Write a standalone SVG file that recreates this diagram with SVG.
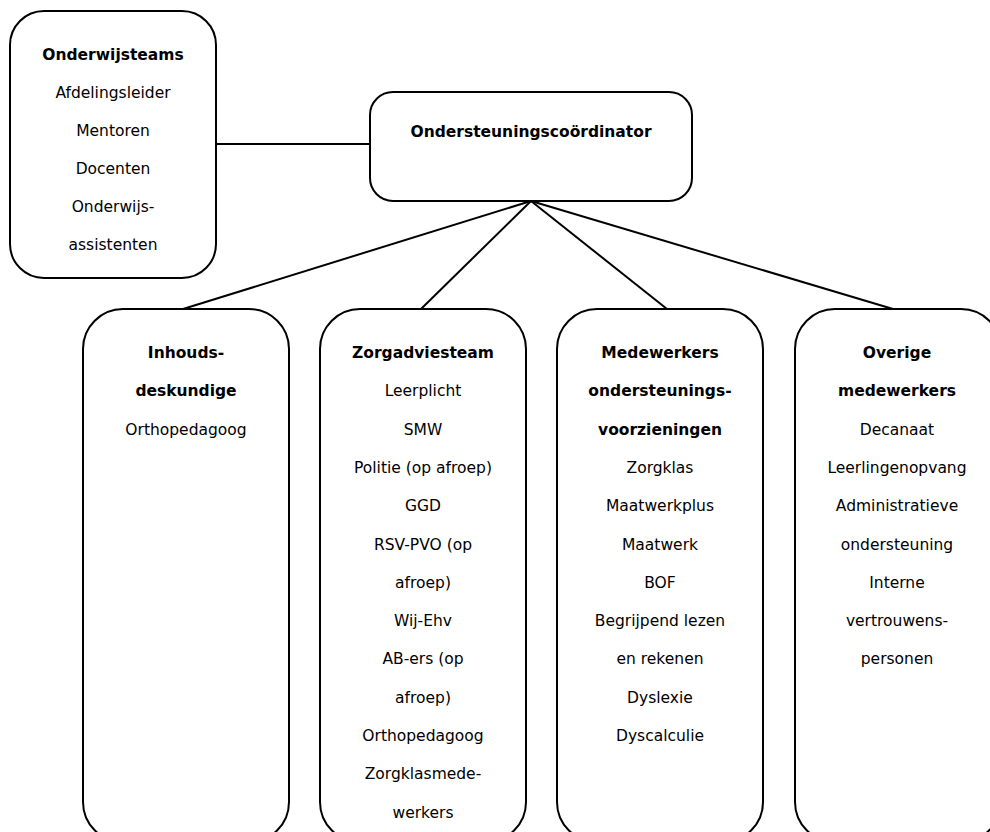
<svg xmlns="http://www.w3.org/2000/svg" width="990" height="832" viewBox="0 0 990 832">
<style>
.box{fill:#fff;stroke:#000;stroke-width:2}
.ln{stroke:#000;stroke-width:2;fill:none}
text{font-family:"DejaVu Sans",Verdana,sans-serif;font-size:15.5px;fill:#000;text-anchor:middle}
.b{font-weight:bold}
</style>
<rect width="990" height="832" fill="#fff"/>
<g id="connectors">
<line class="ln" x1="216" y1="144" x2="370" y2="144"/>
<line class="ln" x1="531" y1="201" x2="183" y2="309"/>
<line class="ln" x1="531" y1="201" x2="421" y2="309"/>
<line class="ln" x1="531" y1="201" x2="667" y2="309"/>
<line class="ln" x1="531" y1="201" x2="893" y2="309"/>
</g>
<g id="onderwijsteams">
<rect class="box" x="10" y="11" width="206" height="267" rx="34"/>
<text x="113" y="59.5" class="b">Onderwijsteams</text>
<text x="113" y="97.5">Afdelingsleider</text>
<text x="113" y="135.5">Mentoren</text>
<text x="113" y="173.5">Docenten</text>
<text x="113" y="211.5">Onderwijs-</text>
<text x="113" y="249.5">assistenten</text>
</g>
<g id="coordinator">
<rect class="box" x="370" y="92" width="322" height="109" rx="23"/>
<text x="531" y="137" class="b">Ondersteuningscoördinator</text>
</g>
<g id="inhoudsdeskundige">
<rect class="box" x="83" y="309" width="206" height="533" rx="40"/>
<text x="186" y="358" class="b">Inhouds-</text>
<text x="186" y="396.3" class="b">deskundige</text>
<text x="186" y="434.6">Orthopedagoog</text>
</g>
<g id="zorgadviesteam">
<rect class="box" x="320" y="309" width="206" height="533" rx="40"/>
<text x="423" y="358" class="b">Zorgadviesteam</text>
<text x="423" y="396.3">Leerplicht</text>
<text x="423" y="434.6">SMW</text>
<text x="423" y="472.9">Politie (op afroep)</text>
<text x="423" y="511.2">GGD</text>
<text x="423" y="549.5">RSV-PVO (op</text>
<text x="423" y="587.8">afroep)</text>
<text x="423" y="626.1">Wij-Ehv</text>
<text x="423" y="664.4">AB-ers (op</text>
<text x="423" y="702.7">afroep)</text>
<text x="423" y="741">Orthopedagoog</text>
<text x="423" y="779.3">Zorgklasmede-</text>
<text x="423" y="817.6">werkers</text>
</g>
<g id="medewerkers-ondersteuningsvoorzieningen">
<rect class="box" x="557" y="309" width="206" height="533" rx="40"/>
<text x="660" y="358" class="b">Medewerkers</text>
<text x="660" y="396.3" class="b">ondersteunings-</text>
<text x="660" y="434.6" class="b">voorzieningen</text>
<text x="660" y="472.9">Zorgklas</text>
<text x="660" y="511.2">Maatwerkplus</text>
<text x="660" y="549.5">Maatwerk</text>
<text x="660" y="587.8">BOF</text>
<text x="660" y="626.1">Begrijpend lezen</text>
<text x="660" y="664.4">en rekenen</text>
<text x="660" y="702.7">Dyslexie</text>
<text x="660" y="741">Dyscalculie</text>
</g>
<g id="overige-medewerkers">
<rect class="box" x="795" y="309" width="206" height="533" rx="40"/>
<text x="897" y="358" class="b">Overige</text>
<text x="897" y="396.3" class="b">medewerkers</text>
<text x="897" y="434.6">Decanaat</text>
<text x="897" y="472.9">Leerlingenopvang</text>
<text x="897" y="511.2">Administratieve</text>
<text x="897" y="549.5">ondersteuning</text>
<text x="897" y="587.8">Interne</text>
<text x="897" y="626.1">vertrouwens-</text>
<text x="897" y="664.4">personen</text>
</g>
</svg>
